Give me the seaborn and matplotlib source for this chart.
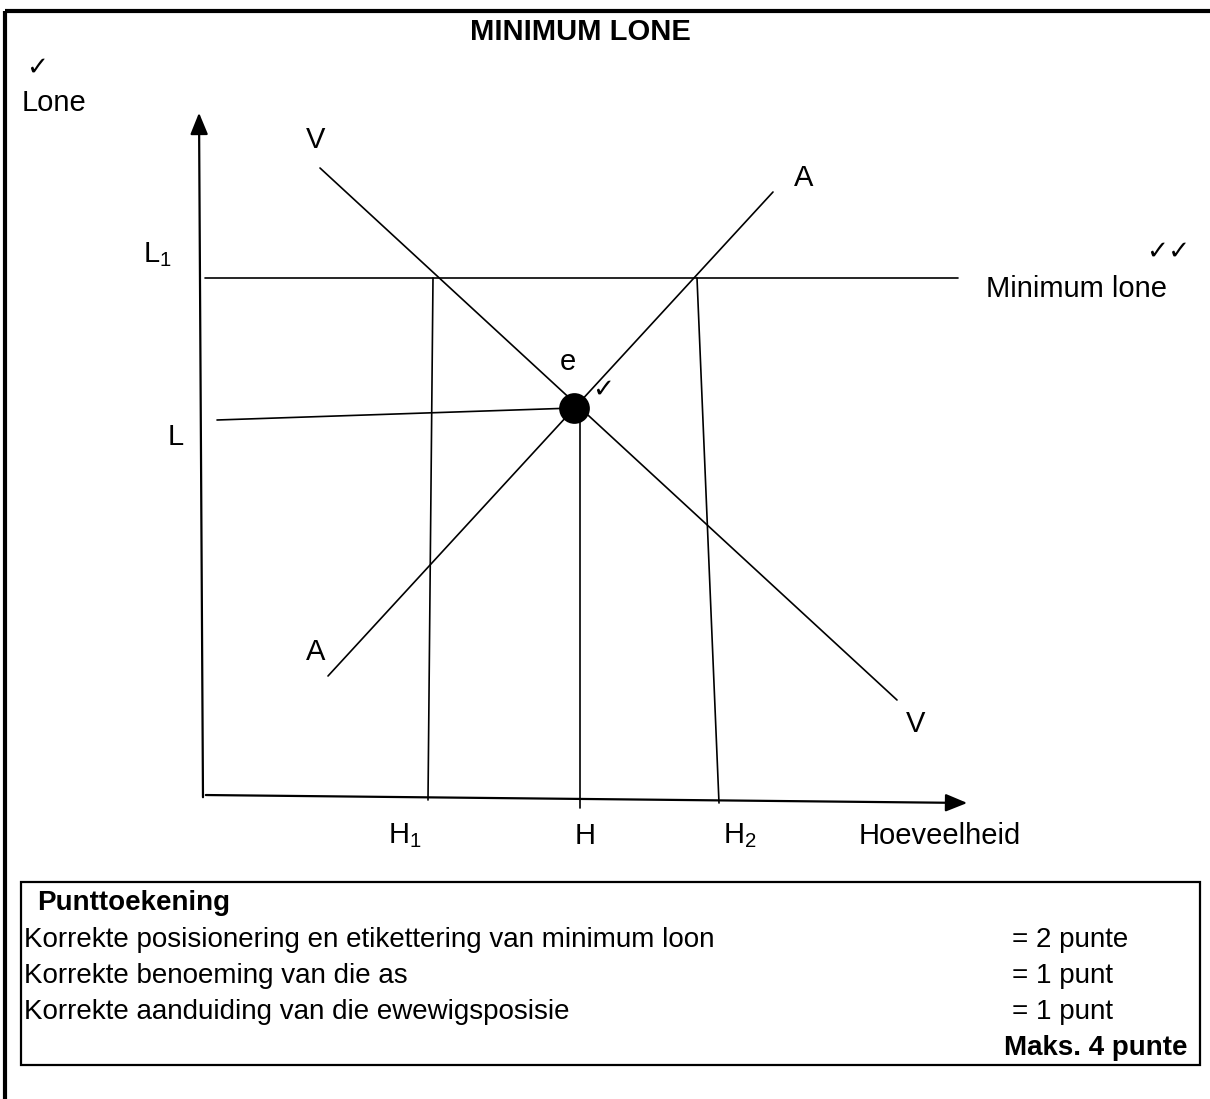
import matplotlib
matplotlib.use("Agg")
import matplotlib.pyplot as plt
import seaborn as sns
from matplotlib.patches import Rectangle

# Diagram data (pixel space of the page, y grows downward)
demand_x = [320, 897]
demand_y = [168, 700]
supply_x = [328, 773]
supply_y = [676, 192]
min_wage_x = [205, 958]
min_wage_y = [278, 278]
eq_wage_x = [217, 574]
eq_wage_y = [420, 408]
h1_x = [433, 428]
h1_y = [278, 800]
h_x = [580, 580]
h_y = [408, 808]
h2_x = [697, 719]
h2_y = [278, 803]
eq_point_x = [574]
eq_point_y = [408]

q_labels = ["H$_1$", "H", "H$_2$"]
q_label_x = [405, 585, 740]

mark_rows = ["Korrekte posisionering en etikettering van minimum loon",
             "Korrekte benoeming van die as",
             "Korrekte aanduiding van die ewewigsposisie"]
mark_points = ["= 2 punte", "= 1 punt", "= 1 punt"]

sns.set_theme(style="white")
plt.rcParams['font.family'] = ['Liberation Sans', 'DejaVu Sans']
plt.rcParams['text.color'] = 'black'
plt.rcParams['mathtext.fontset'] = 'custom'
plt.rcParams['mathtext.rm'] = 'Liberation Sans'

fig = plt.figure(figsize=(12.1, 10.99), dpi=100)
ax = fig.add_axes([0, 0, 1, 1])
ax.set_xlim(0, 1210)
ax.set_ylim(1099, 0)
ax.axis('off')

# page frame
ax.plot([5, 1210], [11, 11], color='black', lw=3, solid_capstyle='butt')
ax.plot([5, 5], [11, 1099], color='black', lw=3, solid_capstyle='butt')

ax.text(580, 32, "MINIMUM LONE", ha='center', va='center', fontsize=21, fontweight='bold')

# axes with arrows
ax.annotate("", xy=(199, 110), xytext=(203, 800),
            arrowprops=dict(arrowstyle='-|>,head_length=1.1,head_width=0.45', color='black', lw=1.6))
ax.annotate("", xy=(970, 803), xytext=(203, 795),
            arrowprops=dict(arrowstyle='-|>,head_length=1.1,head_width=0.45', color='black', lw=1.6))

lw = 1.2
for xs, ys in [(demand_x, demand_y), (supply_x, supply_y), (min_wage_x, min_wage_y),
               (eq_wage_x, eq_wage_y), (h1_x, h1_y), (h_x, h_y), (h2_x, h2_y)]:
    sns.lineplot(x=xs, y=ys, ax=ax, color='black', lw=lw, sort=False, estimator=None)

sns.scatterplot(x=eq_point_x, y=eq_point_y, ax=ax, color='black', s=420,
                marker='o', edgecolor='black')

fs = 21
ck = 19
ax.text(26, 68, "✓", fontsize=ck, ha='left', va='center')
ax.text(22, 103, "Lone", fontsize=fs, ha='left', va='center')
ax.text(316, 140, "V", fontsize=fs, ha='center', va='center')
ax.text(804, 178, "A", fontsize=fs, ha='center', va='center')
ax.text(316, 652, "A", fontsize=fs, ha='center', va='center')
ax.text(916, 724, "V", fontsize=fs, ha='center', va='center')
ax.text(157, 255, "L$_1$", fontsize=fs, ha='center', va='center')
ax.text(176, 437, "L", fontsize=fs, ha='center', va='center')
ax.text(568, 362, "e", fontsize=fs, ha='center', va='center')
ax.text(603, 390, "✓", fontsize=ck, ha='center', va='center')
ax.text(1168, 252, "✓✓", fontsize=ck, ha='center', va='center')
ax.text(1077, 289, "Minimum lone", fontsize=fs, ha='center', va='center')
for lab, x in zip(q_labels, q_label_x):
    ax.text(x, 836, lab, fontsize=fs, ha='center', va='center')
ax.text(940, 836, "Hoeveelheid", fontsize=fs, ha='center', va='center')

# marking box
bfs = 20
ax.add_patch(Rectangle((21, 882), 1179, 183, fill=False, edgecolor='black', lw=1.6))
ax.text(37, 903, "Punttoekening", fontsize=bfs, fontweight='bold', ha='left', va='center')
for i, (row, pts) in enumerate(zip(mark_rows, mark_points)):
    y = 940 + i * 36
    ax.text(24, y, row, fontsize=bfs, ha='left', va='center')
    ax.text(1012, y, pts, fontsize=bfs, ha='left', va='center')
ax.text(1188, 1048, "Maks. 4 punte", fontsize=bfs, fontweight='bold', ha='right', va='center')

fig.savefig("out.png", dpi=100)
